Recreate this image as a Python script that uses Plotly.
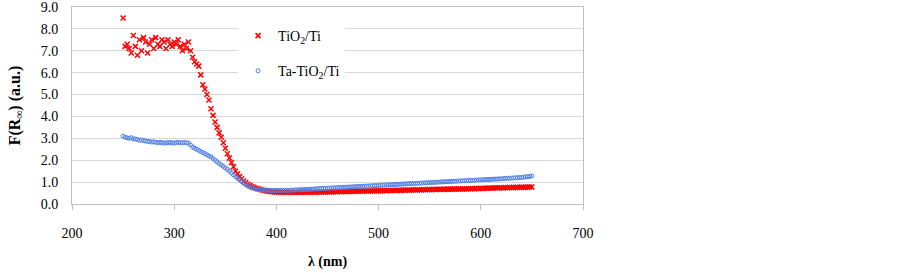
import plotly.graph_objects as go

# wavelength grid (nm)
wavelength = list(range(250, 651, 2))

tio2_ti = [
    8.5, 7.2, 7.3, 7.1, 6.9, 7.7, 7.2, 6.8, 7.5, 7.0,
    7.6, 7.4, 6.9, 7.3, 7.5, 7.1, 7.6, 7.3, 7.2, 7.5,
    7.4, 7.1, 7.5, 7.3, 7.2, 7.4, 7.3, 7.5, 7.2, 7.0,
    7.3, 7.1, 7.4, 7.0, 6.7, 6.5, 6.4, 6.3, 5.9, 5.45,
    5.25, 5.0, 4.75, 4.35, 4.05, 3.75, 3.5, 3.25, 3.05, 2.8,
    2.55, 2.3, 2.1, 1.9, 1.7, 1.5, 1.38, 1.25, 1.15, 1.05,
    0.98, 0.9, 0.85, 0.8, 0.76, 0.72, 0.7, 0.67, 0.64, 0.62,
    0.6, 0.58, 0.57, 0.56, 0.55,
    .55, .54, .53, .55, .54, .53, .54, .55, .53, .54,
    .54, .53, .55, .54, .53, .55, .54, .54, .55, .53,
    .55, .54, .56, .55, .54, .56, .55, .55, .57, .56,
    .56, .57, .56, .58, .57, .57, .58, .57, .59, .58,
    .58, .59, .58, .60, .59, .59, .60, .60, .61, .60,
    .61, .60, .61, .62, .61, .62, .62, .63, .62, .63,
    .63, .62, .64, .63, .64, .63, .64, .65, .64, .65,
    .65, .64, .66, .65, .66, .66, .65, .67, .66, .67,
    .67, .66, .68, .67, .68, .68, .67, .69, .68, .69,
    .69, .68, .70, .69, .70, .70, .71, .70, .71, .71,
    .72, .71, .72, .72, .73, .72, .73, .74, .73, .74,
    .74, .73, .75, .74, .75, .75, .76, .75, .76, .76,
    .77, .76, .77, .77, .78, .78,
]

ta_tio2_ti = [
    3.1, 3.05, 3.02, 3.0, 3.03, 2.98, 2.97, 2.95, 2.9, 2.93,
    2.9, 2.88, 2.86, 2.85, 2.83, 2.84, 2.82, 2.8, 2.82, 2.8,
    2.78, 2.8, 2.79, 2.81, 2.8, 2.78, 2.8, 2.82, 2.8, 2.79,
    2.81, 2.8, 2.78, 2.7, 2.6, 2.55, 2.5, 2.45, 2.4, 2.35,
    2.3, 2.25, 2.2, 2.15, 2.08, 2.0, 1.93, 1.85, 1.78, 1.72,
    1.65, 1.58, 1.5, 1.42, 1.33, 1.25, 1.17, 1.1, 1.02, 0.95,
    0.88, 0.83, 0.78, 0.74, 0.71, 0.69, 0.67, 0.66, 0.65, 0.64,
    0.63, 0.63, 0.62, 0.62, 0.62,
    .62, .62, .63, .62, .63, .63, .62, .64, .63, .64,
    .65, .64, .66, .65, .67, .66, .67, .68, .68, .69,
    .70, .70, .71, .71, .72, .72, .73, .73, .74, .74,
    .75, .75, .76, .76, .77, .77, .78, .78, .79, .79,
    .80, .80, .81, .81, .82, .82, .83, .83, .84, .84,
    .85, .86, .86, .87, .87, .88, .88, .89, .89, .90,
    .90, .91, .91, .92, .92, .93, .93, .94, .94, .95,
    .95, .96, .96, .97, .97, .98, .98, .99, .99, 1.00,
    1.00, 1.01, 1.01, 1.02, 1.02, 1.03, 1.03, 1.04, 1.04, 1.05,
    1.05, 1.06, 1.06, 1.07, 1.07, 1.08, 1.08, 1.09, 1.09, 1.10,
    1.10, 1.11, 1.11, 1.12, 1.12, 1.13, 1.13, 1.14, 1.14, 1.15,
    1.15, 1.16, 1.17, 1.17, 1.18, 1.18, 1.19, 1.20, 1.20, 1.21,
    1.22, 1.23, 1.24, 1.25, 1.26, 1.28,
]

x_ticks = [200, 300, 400, 500, 600, 700]
y_ticks = [0, 1, 2, 3, 4, 5, 6, 7, 8, 9]

FONT = "Liberation Serif, DejaVu Serif, serif"

fig = go.Figure()
fig.add_trace(go.Scatter(
    x=wavelength, y=tio2_ti, mode="markers", name="TiO<sub>2</sub>/Ti",
    legendgroup="a",
    marker=dict(symbol="x-thin", size=5, color="#FF0000",
                line=dict(width=1.5, color="#FF0000")),
))
fig.add_trace(go.Scatter(
    x=wavelength, y=ta_tio2_ti, mode="markers", name="Ta-TiO<sub>2</sub>/Ti",
    legendgroup="b",
    marker=dict(symbol="circle-open", size=4, color="#4F7FE8", line=dict(width=1)),
))

fig.update_layout(
    width=902, height=273,
    margin=dict(l=72, r=319, t=7, b=69),
    paper_bgcolor="white", plot_bgcolor="white",
    font=dict(family=FONT, size=14, color="black"),
    showlegend=True,
    legend=dict(x=0.325, y=0.934, xanchor="left", yanchor="top",
                bgcolor="white", font=dict(size=14, family=FONT),
                tracegroupgap=14, itemwidth=30),
    xaxis=dict(
        range=[200, 700], tickvals=x_ticks, ticks="outside", ticklen=5,
        tickcolor="#BFBFBF", showgrid=False, zeroline=False,
        showline=True, linecolor="#BFBFBF", linewidth=1, mirror=True,
        automargin=False, ticklabelstandoff=11, ticklabeloverflow="allow",
        tickfont=dict(size=14, family=FONT),
        title=dict(text="<b>λ (nm)</b>", font=dict(size=14, family=FONT), standoff=16),
    ),
    yaxis=dict(
        range=[0, 9], tickvals=y_ticks, tickformat=".1f",
        ticks="outside", ticklen=10, tickcolor="rgba(0,0,0,0)",
        showgrid=True, gridcolor="#D9D9D9", gridwidth=1, zeroline=False,
        showline=True, linecolor="#BFBFBF", linewidth=1, mirror=True,
        automargin=False, ticklabeloverflow="allow",
        tickfont=dict(size=14, family=FONT),
        title=dict(text="<b>F(R<sub>∞</sub>) (a.u.)</b>", font=dict(size=16, family=FONT), standoff=16),
    ),
)

fig.write_html("out.html", config={"displayModeBar": False},
               post_script="document.body.style.margin='0';")
